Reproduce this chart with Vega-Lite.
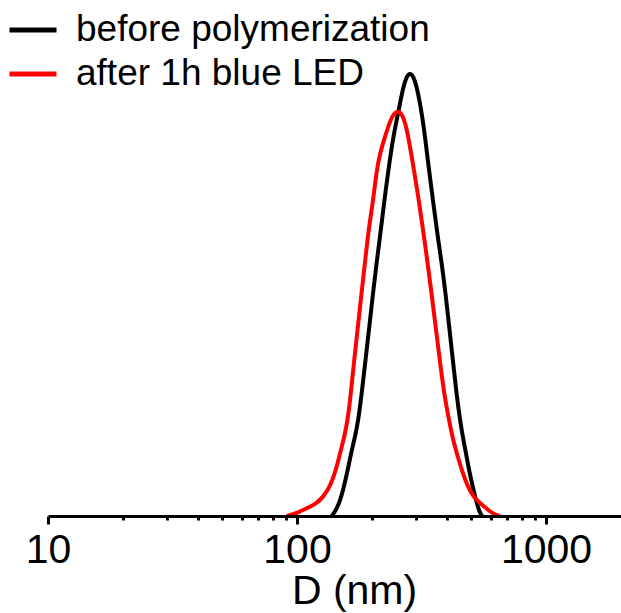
{
  "$schema": "https://vega.github.io/schema/vega-lite/v6.json",
  "width": 573,
  "height": 443,
  "autosize": {"type": "none"},
  "padding": {"left": 48, "top": 73, "right": 0, "bottom": 97},
  "background": "white",
  "config": {"view": {"stroke": null}, "font": "Liberation Sans"},
  "data": {
    "values": [
      {"series": "before polymerization", "D": 137.8, "I": 0},
      {"series": "before polymerization", "D": 142.1, "I": 0.97},
      {"series": "before polymerization", "D": 147.9, "I": 2.87},
      {"series": "before polymerization", "D": 154.4, "I": 6.61},
      {"series": "before polymerization", "D": 159.8, "I": 10.38},
      {"series": "before polymerization", "D": 164.8, "I": 14.15},
      {"series": "before polymerization", "D": 171.0, "I": 17.9},
      {"series": "before polymerization", "D": 176.3, "I": 21.67},
      {"series": "before polymerization", "D": 181.9, "I": 27.7},
      {"series": "before polymerization", "D": 188.4, "I": 35.21},
      {"series": "before polymerization", "D": 195.1, "I": 42.73},
      {"series": "before polymerization", "D": 201.9, "I": 50.27},
      {"series": "before polymerization", "D": 208.6, "I": 57.04},
      {"series": "before polymerization", "D": 215.4, "I": 63.05},
      {"series": "before polymerization", "D": 223.6, "I": 70.59},
      {"series": "before polymerization", "D": 232.6, "I": 78.1},
      {"series": "before polymerization", "D": 243.6, "I": 85.62},
      {"series": "before polymerization", "D": 251.4, "I": 89.39},
      {"series": "before polymerization", "D": 259.2, "I": 93.16},
      {"series": "before polymerization", "D": 267.2, "I": 96.91},
      {"series": "before polymerization", "D": 275.8, "I": 99.26},
      {"series": "before polymerization", "D": 284.4, "I": 100},
      {"series": "before polymerization", "D": 293.1, "I": 99.26},
      {"series": "before polymerization", "D": 302.5, "I": 96.91},
      {"series": "before polymerization", "D": 311.9, "I": 93.16},
      {"series": "before polymerization", "D": 319.8, "I": 89.39},
      {"series": "before polymerization", "D": 326.6, "I": 85.62},
      {"series": "before polymerization", "D": 338.9, "I": 78.1},
      {"series": "before polymerization", "D": 352.7, "I": 70.59},
      {"series": "before polymerization", "D": 367.3, "I": 63.05},
      {"series": "before polymerization", "D": 381.2, "I": 57.04},
      {"series": "before polymerization", "D": 394.8, "I": 50.27},
      {"series": "before polymerization", "D": 408.5, "I": 42.73},
      {"series": "before polymerization", "D": 422.4, "I": 35.21},
      {"series": "before polymerization", "D": 436.7, "I": 27.7},
      {"series": "before polymerization", "D": 451.5, "I": 21.67},
      {"series": "before polymerization", "D": 462.9, "I": 17.9},
      {"series": "before polymerization", "D": 477.2, "I": 14.15},
      {"series": "before polymerization", "D": 490.6, "I": 10.38},
      {"series": "before polymerization", "D": 507.7, "I": 6.61},
      {"series": "before polymerization", "D": 526.9, "I": 2.87},
      {"series": "before polymerization", "D": 543.2, "I": 0.61},
      {"series": "before polymerization", "D": 553.3, "I": 0},
      {"series": "after 1h blue LED", "D": 90.9, "I": 0},
      {"series": "after 1h blue LED", "D": 99.7, "I": 0.61},
      {"series": "after 1h blue LED", "D": 109.4, "I": 1.74},
      {"series": "after 1h blue LED", "D": 120.0, "I": 2.87},
      {"series": "after 1h blue LED", "D": 127.5, "I": 4.36},
      {"series": "after 1h blue LED", "D": 135.7, "I": 6.61},
      {"series": "after 1h blue LED", "D": 143.4, "I": 10.38},
      {"series": "after 1h blue LED", "D": 148.8, "I": 14.15},
      {"series": "after 1h blue LED", "D": 154.9, "I": 17.9},
      {"series": "after 1h blue LED", "D": 159.8, "I": 21.67},
      {"series": "after 1h blue LED", "D": 164.5, "I": 27.7},
      {"series": "after 1h blue LED", "D": 169.7, "I": 35.21},
      {"series": "after 1h blue LED", "D": 175.5, "I": 42.73},
      {"series": "after 1h blue LED", "D": 181.6, "I": 50.27},
      {"series": "after 1h blue LED", "D": 187.9, "I": 57.79},
      {"series": "after 1h blue LED", "D": 194.6, "I": 65.3},
      {"series": "after 1h blue LED", "D": 201.4, "I": 70.59},
      {"series": "after 1h blue LED", "D": 209.0, "I": 78.1},
      {"series": "after 1h blue LED", "D": 215.4, "I": 81.87},
      {"series": "after 1h blue LED", "D": 225.6, "I": 85.62},
      {"series": "after 1h blue LED", "D": 237.0, "I": 89.39},
      {"series": "after 1h blue LED", "D": 245.9, "I": 90.97},
      {"series": "after 1h blue LED", "D": 255.2, "I": 91.49},
      {"series": "after 1h blue LED", "D": 264.8, "I": 90.54},
      {"series": "after 1h blue LED", "D": 272.2, "I": 88.62},
      {"series": "after 1h blue LED", "D": 279.9, "I": 85.62},
      {"series": "after 1h blue LED", "D": 295.0, "I": 78.1},
      {"series": "after 1h blue LED", "D": 309.6, "I": 70.59},
      {"series": "after 1h blue LED", "D": 323.6, "I": 63.05},
      {"series": "after 1h blue LED", "D": 334.6, "I": 57.04},
      {"series": "after 1h blue LED", "D": 346.9, "I": 50.27},
      {"series": "after 1h blue LED", "D": 360.3, "I": 42.73},
      {"series": "after 1h blue LED", "D": 374.2, "I": 35.21},
      {"series": "after 1h blue LED", "D": 389.4, "I": 27.7},
      {"series": "after 1h blue LED", "D": 407.8, "I": 21.67},
      {"series": "after 1h blue LED", "D": 420.4, "I": 17.9},
      {"series": "after 1h blue LED", "D": 437.9, "I": 14.15},
      {"series": "after 1h blue LED", "D": 458.6, "I": 10.38},
      {"series": "after 1h blue LED", "D": 484.8, "I": 6.61},
      {"series": "after 1h blue LED", "D": 510.5, "I": 4.36},
      {"series": "after 1h blue LED", "D": 543.2, "I": 2.87},
      {"series": "after 1h blue LED", "D": 586.5, "I": 1.35},
      {"series": "after 1h blue LED", "D": 624.0, "I": 0.23},
      {"series": "after 1h blue LED", "D": 653.5, "I": 0}
    ]
  },
  "mark": {"type": "line", "strokeWidth": 4, "interpolate": "basis", "clip": false},
  "encoding": {
    "x": {
      "field": "D",
      "type": "quantitative",
      "scale": {"type": "log", "domain": [10, 2000], "nice": false},
      "axis": {
        "values": [10, 20, 30, 40, 50, 60, 70, 80, 90, 100, 200, 300, 400, 500, 600, 700, 800, 900, 1000],
        "labelExpr": "(datum.value == 10 || datum.value == 100 || datum.value == 1000) ? format(datum.value, 'd') : ''",
        "labelFont": "Liberation Sans",
        "labelFontSize": 41,
        "labelColor": "black",
        "labelPadding": 6,
        "labelOverlap": false,
        "labelFlush": false,
        "tickSize": {"condition": {"test": "datum.value == 10 || datum.value == 100 || datum.value == 1000", "value": 8}, "value": 4},
        "tickWidth": 3,
        "tickColor": "black",
        "domainColor": "black",
        "domainWidth": 3,
        "grid": false,
        "title": "D (nm)",
        "titleFont": "Liberation Sans",
        "titleFontSize": 41,
        "titleFontWeight": "normal",
        "titleColor": "black",
        "titleAlign": "center",
        "titleBaseline": "alphabetic",
        "titleX": 306,
        "titleY": 87,
        "zindex": 1
      }
    },
    "y": {
      "field": "I",
      "type": "quantitative",
      "scale": {"domain": [0, 100]},
      "axis": null
    },
    "color": {
      "field": "series",
      "type": "nominal",
      "sort": null,
      "scale": {"domain": ["before polymerization", "after 1h blue LED"], "range": ["#000000", "#ff0000"]},
      "legend": {
        "orient": "none",
        "legendX": -41,
        "legendY": -69,
        "title": null,
        "padding": 0,
        "symbolType": "stroke",
        "symbolSize": 2209,
        "symbolStrokeWidth": 5,
        "labelFont": "Liberation Sans",
        "labelFontSize": 37,
        "labelColor": "black",
        "labelOffset": 17,
        "labelLimit": 0,
        "rowPadding": -3
      }
    }
  }
}
